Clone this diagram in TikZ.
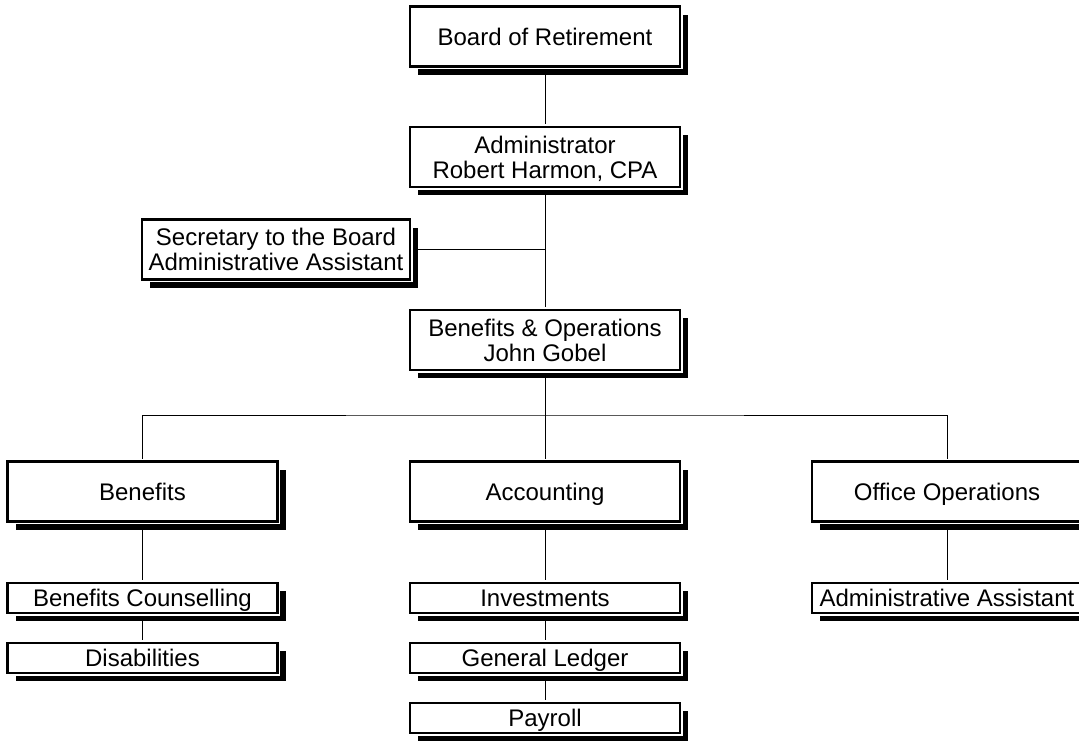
\documentclass[tikz,border=0pt]{standalone}
\usepackage{fontspec}
\setmainfont{Liberation Sans}
\usetikzlibrary{shadows,backgrounds}
\begin{document}
\begin{tikzpicture}[x=1pt, y=-1pt, line width=2.3pt, font=\fontsize{24}{25}\selectfont,
	box/.style={draw, fill=white, align=center, inner sep=0pt, minimum width=270pt, minimum height=60pt,
		text height=17pt, text depth=0pt,
		drop shadow={shadow xshift=8pt, shadow yshift=-8pt, opacity=1, fill=black},
		preaction={draw=white, line width=5.5pt}},
	twoline/.style={box, text height=42pt},
	small/.style={box, minimum height=30pt}]
	\clip (0,0) rectangle (1079,740);
	\node[box] (board) at (545,36.5) {Board of Retirement};
	\node[twoline] (admin) at (545,157) {Administrator\\Robert Harmon, CPA};
	\node[twoline, minimum width=268pt] (secr) at (276,249.5) {Secretary to the Board\\Administrative Assistant};
	\node[twoline] (benops) at (545,340) {Benefits \& Operations\\John Gobel};
	\node[box] (ben) at (142.5,491.5) {Benefits};
	\node[box] (acc) at (545,491.5) {Accounting};
	\node[box] (office) at (947,491.5) {Office Operations};
	\node[small] (couns) at (142.5,598) {Benefits Counselling};
	\node[small] (disab) at (142.5,658) {Disabilities};
	\node[small] (invest) at (545,598) {Investments};
	\node[small] (ledger) at (545,658) {General Ledger};
	\node[small] (payroll) at (545,718) {Payroll};
	\node[small] (assist) at (947,598) {Administrative Assistant};
	\coordinate (bus) at (545,415);
	\begin{scope}[on background layer]
		\draw (board) -- (admin) -- (benops) -- (acc);
		\draw (secr.east) -- (secr.east -| admin.south);
		\draw (ben.north) |- (bus) -| (office.north);
		\draw (ben) -- (couns) -- (disab);
		\draw (acc) -- (invest) -- (ledger) -- (payroll);
		\draw (office) -- (assist);
	\end{scope}
\end{tikzpicture}
\end{document}
